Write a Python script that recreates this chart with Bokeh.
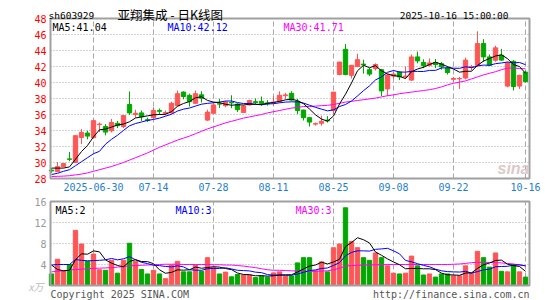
import pandas as pd
from bokeh.plotting import figure
from bokeh.models import Range1d
from bokeh.core.properties import value
from bokeh.embed import file_html
from bokeh.resources import INLINE

# ---------------- data ----------------
dates = ["2025-06-19", "2025-06-20", "2025-06-23", "2025-06-24", "2025-06-25", "2025-06-26", "2025-06-27",
         "2025-06-30", "2025-07-01", "2025-07-02", "2025-07-03", "2025-07-04",
         "2025-07-07", "2025-07-08", "2025-07-09", "2025-07-10", "2025-07-11",
         "2025-07-14", "2025-07-15", "2025-07-16", "2025-07-17", "2025-07-18",
         "2025-07-21", "2025-07-22", "2025-07-23", "2025-07-24", "2025-07-25",
         "2025-07-28", "2025-07-29", "2025-07-30", "2025-07-31", "2025-08-01",
         "2025-08-04", "2025-08-05", "2025-08-06", "2025-08-07", "2025-08-08",
         "2025-08-11", "2025-08-12", "2025-08-13", "2025-08-14", "2025-08-15",
         "2025-08-18", "2025-08-19", "2025-08-20", "2025-08-21", "2025-08-22",
         "2025-08-25", "2025-08-26", "2025-08-27", "2025-08-28", "2025-08-29",
         "2025-09-01", "2025-09-02", "2025-09-03", "2025-09-04", "2025-09-05",
         "2025-09-08", "2025-09-09", "2025-09-10", "2025-09-11", "2025-09-12",
         "2025-09-15", "2025-09-16", "2025-09-17", "2025-09-18", "2025-09-19",
         "2025-09-22", "2025-09-23", "2025-09-24", "2025-09-25", "2025-09-26",
         "2025-09-29", "2025-09-30", "2025-10-09", "2025-10-10",
         "2025-10-13", "2025-10-14", "2025-10-15", "2025-10-16"]

opens = [29.05, 28.86, 29.48, 30.45, 30.00, 33.13, 33.68, 33.10, 34.75, 34.50,
         33.97, 34.90, 34.50, 37.25, 36.00, 36.20, 35.35, 35.60, 36.50, 36.15,
         36.20, 37.10, 38.80, 38.40, 37.40, 38.46, 35.30, 36.15, 37.35, 37.10,
         37.50, 37.30, 36.25, 37.20, 37.60, 37.65, 37.45, 37.45, 37.60, 38.35,
         38.65, 37.65, 36.55, 35.60, 34.80, 34.90, 35.30, 36.50, 41.00, 44.15,
         40.90, 42.00, 42.30, 41.60, 41.75, 41.60, 39.20, 40.80, 41.30, 40.70,
         40.30, 43.20, 42.50, 42.15, 42.50, 42.35, 41.80, 40.40, 40.45, 40.56,
         41.90, 42.15, 44.87, 43.20, 42.78, 43.40, 39.55, 42.65, 39.55, 41.30]
highs = [29.30, 30.07, 29.90, 31.33, 33.40, 34.19, 33.97, 35.36, 35.00, 34.80,
         35.45, 35.20, 35.95, 38.88, 36.60, 36.50, 35.60, 36.90, 36.75, 36.50,
         37.60, 39.00, 38.90, 38.60, 39.00, 38.90, 36.60, 37.30, 37.95, 37.70,
         38.40, 37.40, 37.15, 37.85, 38.00, 38.25, 37.80, 38.30, 38.90, 38.70,
         38.90, 37.95, 36.60, 35.70, 35.00, 35.85, 35.80, 38.80, 42.60, 44.80,
         42.20, 43.60, 42.85, 41.80, 42.40, 41.70, 41.10, 41.30, 41.40, 42.00,
         43.50, 43.85, 42.90, 43.00, 42.95, 42.55, 42.00, 40.70, 40.70, 43.10,
         42.20, 46.40, 45.42, 43.50, 44.60, 44.20, 42.60, 42.80, 40.95, 41.50]
lows = [28.70, 28.80, 29.40, 30.16, 29.95, 32.30, 32.90, 33.00, 33.80, 33.40,
        33.76, 34.30, 34.30, 35.95, 35.60, 35.20, 35.05, 35.50, 35.95, 35.90,
        36.10, 37.00, 37.90, 37.00, 37.30, 37.50, 35.20, 36.05, 36.80, 36.90,
        36.80, 36.30, 36.20, 37.10, 37.30, 37.10, 37.10, 37.10, 37.50, 37.90,
        37.70, 36.05, 35.25, 34.50, 34.60, 34.60, 35.00, 36.05, 40.90, 40.90,
        40.50, 41.90, 41.10, 40.80, 41.50, 38.30, 38.30, 40.50, 40.30, 40.50,
        40.20, 42.40, 41.80, 42.00, 41.80, 41.60, 41.00, 40.10, 39.20, 40.40,
        41.50, 42.00, 42.57, 42.10, 42.60, 42.70, 39.40, 39.00, 39.20, 40.00]
closes = [28.95, 29.48, 29.86, 30.40, 33.35, 33.76, 33.30, 35.23, 34.80, 33.80,
          35.00, 34.60, 35.86, 36.20, 36.15, 35.70, 35.25, 36.50, 36.40, 36.25,
          37.40, 38.60, 38.25, 37.60, 38.60, 38.04, 36.30, 37.20, 37.30, 37.55,
          37.45, 36.60, 37.05, 37.75, 37.50, 37.40, 37.35, 37.55, 38.40, 38.45,
          37.80, 36.50, 35.60, 35.05, 34.85, 35.15, 35.20, 38.80, 42.55, 41.00,
          42.15, 42.85, 42.20, 41.05, 42.25, 38.95, 40.95, 41.05, 40.70, 40.80,
          43.20, 42.70, 42.10, 42.45, 42.25, 41.95, 41.25, 40.50, 40.50, 42.80,
          42.00, 44.87, 43.20, 42.15, 44.33, 42.80, 42.44, 39.50, 40.90, 40.10]
volumes = [2.2, 5.0, 2.8, 4.0, 10.5, 7.9, 4.6, 6.0, 3.0, 2.9,
           4.8, 2.35, 4.8, 8.05, 4.6, 3.05, 2.2, 2.9, 2.2, 1.3,
           3.9, 4.6, 2.6, 2.6, 3.9, 2.7, 5.3, 3.4, 2.2, 2.55,
           1.65, 2.1, 2.0, 2.0, 1.5, 1.8, 1.6, 2.4, 2.6, 1.8,
           1.8, 4.3, 5.3, 5.3, 2.8, 4.5, 2.6, 7.2, 7.9, 14.8,
           8.4, 7.2, 5.3, 4.8, 6.2, 5.3, 3.75, 2.35, 2.2, 2.35,
           5.6, 3.75, 2.0, 2.2, 1.6, 2.2, 2.2, 1.85, 1.85, 3.75,
           2.35, 6.5, 5.3, 3.5, 6.2, 2.7, 2.6, 4.0, 2.6, 1.6]

# moving-average values before a full window exists
ma5_head = [29.3, 29.3, 29.3, 29.45]
ma10_head = [28.5, 28.65, 28.9, 29.1, 29.6, 30.1, 30.6, 31.1, 31.4]
ma30 = [28.25, 28.27, 28.3, 28.35, 28.45, 28.55, 28.7, 28.9, 29.1, 29.3,
        29.5, 29.75, 30.0, 30.3, 30.6, 30.9, 31.2, 31.55, 31.9, 32.2,
        32.5, 32.8, 33.05, 33.3, 33.6, 33.9, 34.2, 34.45, 34.7, 34.95,
        35.15, 35.35, 35.55, 35.7, 35.85, 36.0, 36.2, 36.35, 36.5, 36.65,
        36.8, 36.9, 37.0, 37.0, 37.05, 37.1, 37.15, 37.25, 37.4, 37.55,
        37.65, 37.75, 37.85, 37.95, 38.05, 38.2, 38.35, 38.45, 38.6, 38.7,
        38.8, 38.9, 39.0, 39.1, 39.25, 39.45, 39.7, 39.9, 40.05, 40.2,
        40.45, 40.7, 40.95, 41.15, 41.35, 41.6, 41.8, 41.8, 41.75, 41.71]
vol_ma5_head = [3.9, 3.05, 2.8, 2.9]
vol_ma10_head = [3.9, 4.0, 4.0, 4.0, 4.95, 4.8, 4.7, 4.75, 4.8]
vol_ma30 = [2.6, 2.7, 2.8, 2.95, 3.05, 3.1, 3.2, 3.25, 3.3, 3.35,
            3.4, 3.5, 3.6, 3.75, 3.8, 3.85, 3.9, 3.95, 4.0, 4.05,
            4.05, 4.05, 4.0, 4.0, 4.0, 4.0, 4.0, 3.95, 3.95, 3.9,
            3.9, 3.8, 3.7, 3.55, 3.4, 3.2, 3.0, 2.9, 2.9, 2.85,
            2.8, 2.75, 2.7, 2.7, 2.7, 2.75, 2.8, 3.0, 3.3, 3.7,
            3.8, 3.85, 3.9, 3.9, 3.95, 3.95, 4.0, 4.0, 4.0, 4.0,
            4.0, 4.0, 4.0, 4.0, 4.0, 4.0, 4.0, 4.05, 4.1, 4.2,
            4.35, 4.4, 4.4, 4.4, 4.35, 4.3, 4.2, 4.1, 3.9, 3.75]

tick_dates = ["2025-06-30", "2025-07-14", "2025-07-28", "2025-08-11",
              "2025-08-25", "2025-09-08", "2025-09-22", "2025-10-16"]
tick_labels = ["2025-06-30", "07-14", "07-28", "08-11", "08-25", "09-08", "09-22", "10-16"]
price_ticks = [28, 30, 32, 34, 36, 38, 40, 42, 44, 46, 48]
vol_ticks = [4, 8, 12, 16]

stock_code = "sh603929"
title_text = "亚翔集成 - 日K线图"
time_text = "2025-10-16 15:00:00"
price_legend = ["MA5:41.04", "MA10:42.12", "MA30:41.71"]
vol_legend = ["MA5:2", "MA10:3", "MA30:3"]
vol_unit = "x万"
copyright_text = "Copyright 2025 SINA.COM"
url_text = "http://finance.sina.com.cn"

# ---------------- derived ----------------
df = pd.DataFrame({"o": opens, "h": highs, "l": lows, "c": closes, "v": volumes})
df["i"] = range(len(df))
n = len(df)
idx = list(range(n))
ma5 = df["c"].rolling(5).mean().tolist()
ma10 = df["c"].rolling(10).mean().tolist()
ma5[:len(ma5_head)] = ma5_head
ma10[:len(ma10_head)] = ma10_head
vma5 = df["v"].rolling(5).mean().tolist()
vma10 = df["v"].rolling(10).mean().tolist()
vma5[:len(vol_ma5_head)] = vol_ma5_head
vma10[:len(vol_ma10_head)] = vol_ma10_head

RED = "#ff5555"
GREEN = "#00a800"
df["color"] = [RED if c >= o else GREEN for o, c in zip(opens, closes)]
df["top"] = df[["o", "c"]].max(axis=1)
df["bot"] = df[["o", "c"]].min(axis=1)
tick_idx = [dates.index(d) for d in tick_dates]

# ---------------- layout (pixel geometry of the canvas) ----------------
W, H = 545, 300
PANEL_L, PANEL_R = 50, 529          # panel left / right edge (px)
CANDLE0, STEP = 51, 6               # centre of first candle, px per trading day
P_TOP, P_PPU = 18, 8                # px of price 48, px per price unit
P_MAX, P_MIN = 48, 28
V_TOP, V_PPU = 201, 5.25            # px of volume 16, px per volume unit
V_MAX, V_MIN = 16, 0

def xd(px):
    return (px - CANDLE0) / STEP

def yp(py):
    return P_MAX - (py - P_TOP) / P_PPU

def yv(py):
    return V_MAX - (py - V_TOP) / V_PPU

p = figure(width=W, height=H, x_range=Range1d(xd(0), xd(W)),
           y_range=Range1d(yp(H), yp(0)),
           x_axis_type=None, y_axis_type=None,
           output_backend="svg", toolbar_location=None,
           min_border=0, min_border_left=0, min_border_right=0,
           min_border_top=0, min_border_bottom=0)
p.extra_y_ranges = {"vol": Range1d(yv(H), yv(0))}
p.outline_line_color = None
p.grid.visible = False
p.background_fill_color = "white"
p.border_fill_color = "white"

MONO = "DejaVu Sans Mono"
GRID = "#a8a8a8"
BORDER = "#a0a0a0"
xl, xr = xd(PANEL_L), xd(PANEL_R)

# grids --- price panel
p.segment(x0=xl, x1=xr, y0=price_ticks[1:-1], y1=price_ticks[1:-1],
          line_color=GRID, line_dash="1 2", line_width=1)
p.segment(x0=tick_idx, x1=tick_idx, y0=P_MIN, y1=P_MAX,
          line_color=GRID, line_dash="5 3", line_width=1)
# grids --- volume panel
p.segment(x0=xl, x1=xr, y0=vol_ticks[:-1], y1=vol_ticks[:-1],
          line_color=GRID, line_dash="1 2", line_width=1, y_range_name="vol")
p.segment(x0=tick_idx, x1=tick_idx, y0=V_MIN, y1=V_MAX,
          line_color=GRID, line_dash="5 3", line_width=1, y_range_name="vol")

# candles
p.segment(x0="i", y0="l", x1="i", y1="h", color="color", line_width=1, source=df)
p.vbar(x="i", top="top", bottom="bot", width=0.72, fill_color="color",
       line_color="color", line_width=1, source=df)
p.line(idx, ma30, color="#ff00ff", line_width=1)
p.line(idx, ma10, color="#0000ff", line_width=1)
p.line(idx, ma5, color="#000000", line_width=1)

# volume
p.vbar(x="i", top="v", bottom=0, width=0.72, fill_color="color",
       line_color="color", line_width=1, source=df, y_range_name="vol")
p.line(idx, vol_ma30, color="#ff00ff", line_width=1, y_range_name="vol")
p.line(idx, vma10, color="#0000ff", line_width=1, y_range_name="vol")
p.line(idx, vma5, color="#000000", line_width=1, y_range_name="vol")

# panel borders
p.quad(left=xl, right=xr, bottom=P_MIN, top=P_MAX, fill_color=None,
       line_color=BORDER, line_width=2)
p.quad(left=xl, right=xr, bottom=V_MIN, top=V_MAX, fill_color=None,
       line_color=BORDER, line_width=2, y_range_name="vol")

def txt(px, py, s, color, size="10px", align="left", baseline="alphabetic",
        font=MONO, style="normal"):
    p.text(x=[xd(px)], y=[yp(py)], text=[s], text_color=color,
           text_font=value(font), text_font_size=value(size),
           text_align=align, text_baseline=baseline, text_font_style=style)

# tick labels
p.text(x=[xd(46)] * len(price_ticks), y=price_ticks, text=[str(t) for t in price_ticks],
       text_color="#ff0000", text_font=value(MONO), text_font_size=value("10px"),
       text_align="right", text_baseline="middle")
p.text(x=[xd(46)] * len(vol_ticks), y=vol_ticks, text=[str(t) for t in vol_ticks],
       text_color="#999999", text_font=value(MONO), text_font_size=value("10px"),
       text_align="right", text_baseline="middle", y_range_name="vol")
p.text(x=tick_idx, y=[yp(186.5)] * len(tick_idx), text=tick_labels,
       text_color="#1f80d0", text_font=value(MONO), text_font_size=value("10px"),
       text_align="center", text_baseline="middle")

# header
txt(48, 15, stock_code, "#000000", size="9.5px")
txt(117, 14, title_text, "#000000", size="12.5px", font="Noto Sans CJK SC")
txt(508, 15, time_text, "#000000", size="9.5px", align="right")
# legends
txt(52, 27, price_legend[0], "#000000")
txt(167, 27, price_legend[1], "#0000ff")
txt(283, 27, price_legend[2], "#ff00ff")
txt(55, 210, vol_legend[0], "#000000")
txt(175, 210, vol_legend[1], "#0000ff")
txt(295, 210, vol_legend[2], "#ff00ff")
# watermark, unit, footer
txt(497, 168, "sina", "#dcc9c9", size="16px", font="Liberation Sans", style="bold italic")
txt(28, 285.5, vol_unit, "#bbbbbb", size="10px", font="Noto Sans CJK SC",
    baseline="middle", style="italic")
txt(50, 294, copyright_text, "#555555")
txt(529, 294, url_text, "#555555", align="right")

with open("out.html", "w") as f:
    f.write(file_html(p, INLINE))
